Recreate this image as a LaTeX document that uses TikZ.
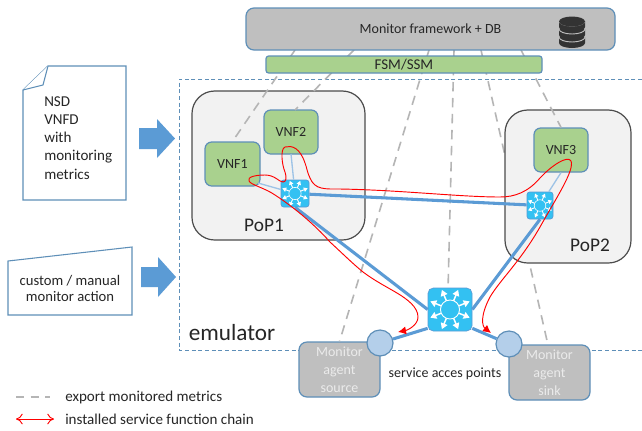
\documentclass[tikz,border=0pt]{standalone}
\usepackage{fontspec}
\setmainfont{Carlito}
\usetikzlibrary{arrows.meta,calc}
\definecolor{edgeblue}{HTML}{5E8FB8}
\definecolor{linkblue}{HTML}{5B9BD5}
\definecolor{thinblue}{HTML}{9DC3E6}
\definecolor{greybox}{HTML}{BFBFBF}
\definecolor{greenbox}{HTML}{A9D18E}
\definecolor{popfill}{HTML}{F2F2F2}
\definecolor{swfill}{HTML}{33C1F2}
\definecolor{sapfill}{HTML}{B4CFEA}
\definecolor{dashgrey}{HTML}{B5B5B5}
\definecolor{dbdark}{HTML}{333333}
\newcommand{\swicon}[2]{%
  \begin{scope}[shift={(#1.center)},scale=#2]
    \foreach \a in {22.5,67.5,...,337.5}
      \draw[white,line width=#2*1pt,-{Triangle[length=#2*4pt,width=#2*4.6pt]}] (\a:8) -- (\a:19);
    \filldraw[fill=swfill,draw=white,line width=#2*0.6pt] (0,0) circle (8.5);
  \end{scope}}
\tikzset{
  wh/.style 2 args={minimum width=#1*0.75pt,minimum height=#2*0.75pt,inner sep=0pt},
  lbl/.style={font=\fontsize{10.5pt}{12.4pt}\selectfont,text=black!85,align=center,inner sep=0pt},
  biglbl/.style={font=\fontsize{14.5pt}{17pt}\selectfont,text=black!85,inner sep=0pt},
  greyb/.style={draw=edgeblue,fill=greybox,line width=0.9pt,rounded corners=6pt},
  vnf/.style={draw=edgeblue,fill=greenbox,line width=0.9pt,rounded corners=5pt},
  pop/.style={draw=black!70,fill=popfill,line width=0.9pt,rounded corners=17pt},
  sw/.style={fill=swfill,draw=linkblue,line width=0.5pt,rounded corners=2pt},
  sap/.style={circle,draw=edgeblue,fill=sapfill,line width=0.9pt,minimum size=19.5pt,inner sep=0pt},
  export/.style={draw=dashgrey,line width=1.2pt,dash pattern=on 7pt off 5pt},
  link/.style={draw=linkblue,line width=2.3pt},
  thinlink/.style={draw=thinblue,line width=1pt},
  chain/.style={draw=red,line width=0.7pt},
  paper/.style={draw=edgeblue,line width=0.8pt,fill=white},
  bigarrow/.style={fill=linkblue,draw=none},
}
\begin{document}
\begin{tikzpicture}[x=0.75pt,y=-0.75pt]
\useasboundingbox (0,0) rectangle (642,430);
\fill[white] (0,0) rectangle (642,430);

% named anchors for the export lines
\coordinate (m1) at (295,50);
\coordinate (m2) at (354,50);
\coordinate (m3) at (429,50);
\coordinate (m4) at (454,50);
\coordinate (m5) at (481,50);
\coordinate (m6) at (521,50);

% emulator frame
\draw[edgeblue,line width=0.7pt,dash pattern=on 3pt off 2pt] (642,79) -- (179,79) -- (179,350) -- (642,350);

% export line that runs behind PoP2
\draw[export] (m5) -- (548,345);

% PoPs
\node[pop,wh={173}{149}] (pop1) at (278.5,165.5) {};
\node[pop,wh={126}{153}] (pop2) at (568,186.5) {};

% VNFs, agents, top boxes
\node[vnf,wh={55}{44},lbl] (vnf1) at (232.5,164) {VNF1};
\node[vnf,wh={54}{44},lbl] (vnf2) at (291,132) {VNF2};
\node[vnf,wh={54}{44},lbl] (vnf3) at (561,150) {VNF3};
\node[greyb,wh={81}{55},lbl,text=white!92!black] (src) at (339.5,369.5) {Monitor\\[1pt]agent\\[1pt]source};
\node[greyb,wh={81}{55},lbl,text=white!92!black] (snk) at (549.5,372.5) {Monitor\\[1pt]agent\\[1pt]sink};

\draw[export] (m1) -- (vnf1.north);
\draw[export] (m2) -- (295,110);
\draw[export] (m3) -- (src.north);
\draw[export] (m4) -- (448,290);
\draw[export] (m6) -- (vnf3.north);

\node[greyb,wh={369}{42},lbl] (mon) at (430.5,29) {Monitor framework + DB};
\node[vnf,rounded corners=2pt,wh={276}{17},lbl,font=\fontsize{11.2pt}{13pt}\selectfont] (fsm) at (404,64.5) {FSM/SSM};

% database icon
\begin{scope}[shift={(572,32)}]
  \foreach \yy in {5,-3,-11}{
    \fill[dbdark] (-13,\yy) -- (-13,\yy+6) arc[start angle=180,end angle=0,x radius=13,y radius=5] -- (13,\yy) -- cycle;
    \draw[greybox,line width=0.7pt] (-13,\yy) arc[start angle=180,end angle=0,x radius=13,y radius=5];
  }
  \fill[dbdark] (0,-10.5) ellipse[x radius=13,y radius=5];
\end{scope}

% switches
\node[sw,wh={28}{27}] (s1) at (295,193.5) {};
\node[sw,wh={26}{27}] (s2) at (540,205.5) {};
\node[sw,rounded corners=4pt,wh={44}{43}] (hub) at (450,309.5) {};
\node[sap] (sapl) at (380,343) {};
\node[sap] (sapr) at (509,344) {};

% links
\draw[link] (s1) -- (s2);
\draw[link] (s1.south) -- (hub.west);
\draw[link] (s2.south) -- (hub.east);
\draw[link] ($(hub.south west)+(0,-3)$) -- (sapl);
\draw[link] ($(hub.south east)+(0,-3)$) -- (sapr);
\draw[thinlink] (258,183) -- (s1);
\draw[thinlink] (291,154) -- (s1);
\draw[thinlink] (vnf3.south) -- (s2);

\swicon{s1}{0.72}
\swicon{s2}{0.68}
\swicon{hub}{1.12}

% service chain
\coordinate (cs) at (398,332);
\coordinate (ce) at (491,333);
\draw[chain,{Latex[length=6pt,width=6pt]}-{Latex[length=6pt,width=6pt]}] (ce)
 .. controls (482,326) and (480,316) .. (490,297)
 .. controls (500,280) and (520,262) .. (540,227)
 .. controls (555,200) and (575,170) .. (571,161)
 .. controls (568,155) and (552,165) .. (540,178)
 .. controls (528,192) and (515,197) .. (500,197)
 .. controls (460,197) and (400,190) .. (340,189)
 .. controls (325,189) and (315,190) .. (310,178)
 .. controls (307,172) and (307,168) .. (305,163)
 .. controls (300,148) and (292,145) .. (285,147)
 .. controls (280,149) and (282,165) .. (285,172)
 .. controls (287,178) and (286,182) .. (283,182)
 .. controls (279,182) and (275,175) .. (265,175)
 .. controls (255,175) and (247,177) .. (249,181)
 .. controls (251,185) and (265,188) .. (275,195)
 .. controls (295,208) and (315,225) .. (330,242)
 .. controls (342,253) and (352,263) .. (363,272)
 .. controls (375,281) and (387,287) .. (397,293)
 .. controls (407,299) and (418,307) .. (418,317)
 .. controls (418,325) and (408,330) .. (cs);

% papers
\draw[paper] (48,66) -- (126,66) -- (126,200) -- (23,200) -- (23,90) -- cycle;
\draw[paper] (48,66) -- (43,85) -- (23,90);
\node[lbl,align=left,anchor=north west,font=\fontsize{11.3pt}{13.7pt}\selectfont] (doc) at (44,96) {NSD\\VNFD\\with\\monitoring\\metrics};
\draw[paper] (8,261) -- (132,247) -- (132,315) -- (8,315) -- cycle;
\node[lbl,font=\fontsize{11pt}{12pt}\selectfont] (manual) at (70,288) {custom / manual\\monitor action};

% block arrows
\fill[bigarrow] (139,128) -- (157,128) -- (157,119) -- (175,138.5) -- (157,158) -- (157,149) -- (139,149) -- cycle;
\fill[bigarrow] (141,267) -- (158,267) -- (158,257) -- (176,277) -- (158,297) -- (158,287) -- (141,287) -- cycle;

% labels
\node[biglbl] (p1) at (264,225) {PoP1};
\node[biglbl] (p2) at (590,245) {PoP2};
\node[biglbl,font=\fontsize{17.4pt}{20pt}\selectfont] (emu) at (232,333) {emulator};
\node[lbl] (sapt) at (445,374) {service acces points};

% legend
\coordinate (l1a) at (16,397); \coordinate (l1b) at (50,397);
\coordinate (l2a) at (16,419); \coordinate (l2b) at (54,419);
\draw[export,dash pattern=on 6pt off 5pt] (l1a) -- (l1b);
\draw[chain,{To[length=5pt,width=8pt]}-{To[length=5pt,width=8pt]}] (l2a) -- (l2b);
\node[lbl,anchor=west,font=\fontsize{11.3pt}{13pt}\selectfont] (leg1) at (65,397) {export monitored metrics};
\node[lbl,anchor=west,font=\fontsize{11.3pt}{13pt}\selectfont] (leg2) at (65,419) {installed service function chain};
\end{tikzpicture}
\end{document}
